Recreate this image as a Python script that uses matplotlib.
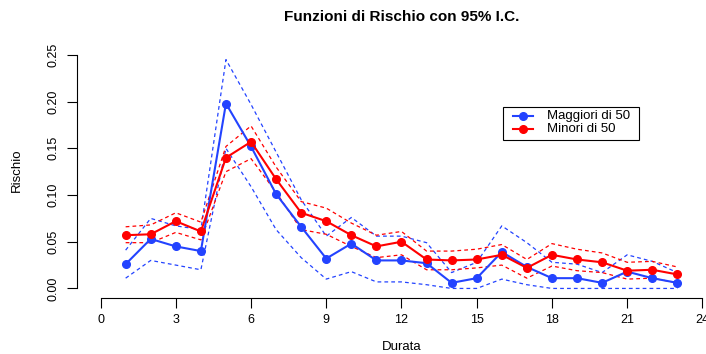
import numpy as np
import matplotlib.pyplot as plt
from matplotlib.patches import Rectangle
from matplotlib.lines import Line2D

plt.rcParams['font.family'] = ['Liberation Sans', 'DejaVu Sans']

durata = np.arange(1, 24)

# rischio stimato per classe di eta
maggiori = [0.026, 0.053, 0.045, 0.040, 0.198, 0.152, 0.101, 0.066, 0.032, 0.048,
            0.030, 0.030, 0.027, 0.006, 0.011, 0.039, 0.023, 0.011, 0.011, 0.006,
            0.018, 0.011, 0.006]
minori = [0.057, 0.058, 0.072, 0.061, 0.140, 0.157, 0.117, 0.081, 0.072, 0.057,
          0.045, 0.050, 0.031, 0.030, 0.031, 0.036, 0.022, 0.036, 0.031, 0.028,
          0.019, 0.020, 0.015]

# intervalli di confidenza al 95%
maggiori_sup = [0.041, 0.075, 0.067, 0.063, 0.245, 0.197, 0.146, 0.095, 0.056, 0.076,
                0.056, 0.056, 0.049, 0.017, 0.028, 0.067, 0.049, 0.028, 0.026, 0.017,
                0.036, 0.029, 0.017]
maggiori_inf = [0.011, 0.030, 0.025, 0.020, 0.150, 0.109, 0.063, 0.033, 0.010, 0.018,
                0.007, 0.007, 0.004, 0.000, 0.000, 0.010, 0.004, 0.000, 0.000, 0.000,
                0.000, 0.000, 0.000]
minori_sup = [0.066, 0.068, 0.081, 0.071, 0.152, 0.174, 0.130, 0.093, 0.086, 0.070,
              0.057, 0.061, 0.040, 0.040, 0.042, 0.047, 0.031, 0.048, 0.042, 0.038,
              0.028, 0.029, 0.023]
minori_inf = [0.049, 0.049, 0.060, 0.052, 0.125, 0.139, 0.103, 0.063, 0.058, 0.045,
              0.033, 0.036, 0.020, 0.020, 0.022, 0.025, 0.011, 0.024, 0.019, 0.017,
              0.010, 0.011, 0.006]

etichette = ['Maggiori di 50', 'Minori di 50']
blu = '#2343ff'
rosso = '#ff0000'

W, H = 706, 354
fig = plt.figure(figsize=(W / 100, H / 100), dpi=100)
ax = fig.add_axes([76.5 / W, 0.1588, 1 - 76.5 / W, 0.8712 - 0.1588])

for sup, inf, col in [(maggiori_sup, maggiori_inf, blu), (minori_sup, minori_inf, rosso)]:
    ax.plot(durata, sup, color=col, lw=0.9, dashes=(3, 2.5))
    ax.plot(durata, inf, color=col, lw=0.9, dashes=(3, 2.5))

ax.plot(durata, maggiori, color=blu, lw=1.5, marker='o', ms=5.5)
ax.plot(durata, minori, color=rosso, lw=1.5, marker='o', ms=5.5)

ax.set_xlim(-0.96, (W - 100) / 25.1)
ax.set_ylim(-0.01, 0.26)
ax.set_xticks(np.arange(0, 25, 3))
ax.set_yticks([0, 0.05, 0.10, 0.15, 0.20, 0.25])
ax.set_yticklabels(['0.00', '0.05', '0.10', '0.15', '0.20', '0.25'],
                   rotation=90, va='center')
ax.spines['top'].set_visible(False)
ax.spines['right'].set_visible(False)
ax.spines['left'].set_bounds(0, 0.25)
ax.spines['bottom'].set_bounds(0, 24)
ax.tick_params(direction='out', length=7, width=0.8, labelsize=9, pad=5)
ax.patch.set_alpha(0)

fig.text(402 / W, 1 - 17 / H, 'Funzioni di Rischio con 95% I.C.',
         ha='center', va='center', fontsize=11, fontweight='bold')
fig.text(402 / W, 1 - 347 / H, 'Durata', ha='center', va='center', fontsize=9.5)
fig.text(17 / W, 1 - 170 / H, 'Rischio', ha='center', va='center',
         rotation=90, fontsize=9.5)

# legenda in stile R, disegnata a mano
fig.add_artist(Rectangle((503 / W, 1 - 140 / H), 136 / W, 33 / H,
                         transform=fig.transFigure, fill=False,
                         edgecolor='black', lw=0.8))
for riga, (lab, col) in enumerate(zip(etichette, [blu, rosso])):
    y = 1 - (116 + 13 * riga) / H
    fig.add_artist(Line2D([513 / W, 533 / W], [y, y], transform=fig.transFigure,
                          color=col, lw=1.5))
    fig.add_artist(Line2D([523 / W], [y], transform=fig.transFigure,
                          color=col, marker='o', ms=5.5))
    fig.text(547 / W, y, lab, ha='left', va='center', fontsize=9.5)

fig.savefig('out.png', dpi=100)
